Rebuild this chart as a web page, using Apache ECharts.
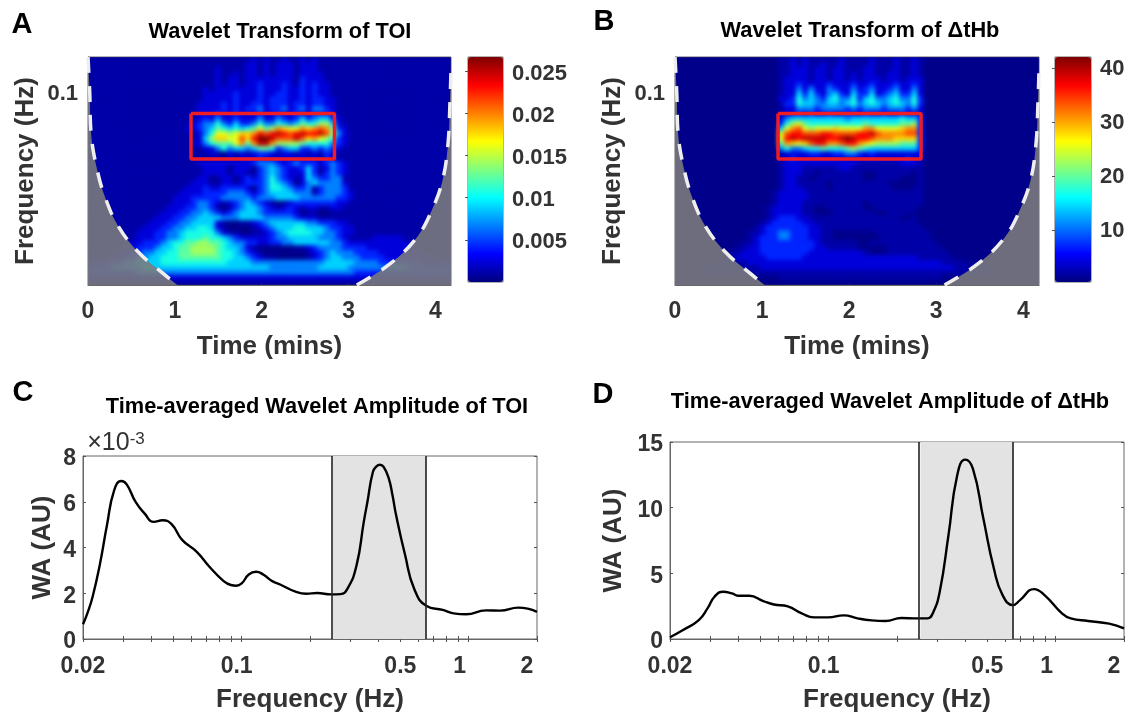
<!DOCTYPE html>
<html><head><meta charset="utf-8">
<style>html,body{margin:0;padding:0;background:#fff}#c{width:1125px;height:713px}</style>
<script src="https://cdn.jsdelivr.net/npm/echarts@6/dist/echarts.min.js"></script></head>
<body><div id="c"></div>
<script>
// Heat levels (hex 0-f) read cell by cell, top row first; groups of ten columns.
const toiRows=[
"1111111111 1111111111 1111111212 1121121211 1111111111 1111111111",
"1111111111 1111111111 1111112212 1222122211 1111111111 1111111111",
"1111111111 1111111111 1211112212 1222122211 1111111111 1111111111",
"1111111111 1111111111 1211212212 1222122221 1111111111 1111111111",
"1111111111 1111111111 1212212222 2222132221 1111111111 1111111111",
"1111111111 1111111111 1212212232 2232132322 1111111111 1111111111",
"1111111111 1111111112 1222222232 2232232322 1111111111 1111111111",
"1111111111 1111111112 2222322232 2332232322 1111111111 1111111111",
"1111111111 1111111112 2222322232 3332232332 2111111111 1111111111",
"1111111111 1111111122 2232322332 3332332332 2111111111 1111111111",
"1111111111 1111111122 2232323342 3342342443 2111111111 1111111111",
"1111111111 1111111122 2322322232 2322322333 2111111111 1111111111",
"1111111111 1111111123 2422322242 2432353455 3211111111 1111111111",
"1111111111 1111111234 4643533464 4654576688 5211111111 1111111111",
"1111111111 1111112234 5765656797 8ba99babcb 7321111111 1111111111",
"1111111111 1111111124 69989aabdc dedcdeddec 8421111111 1111111111",
"1111111111 1111111125 8aa99cadff ecccecab98 6321111111 1111111111",
"1111111111 1111111224 67779b7bee b888876666 4321111111 1111111111",
"1111111111 1111111112 2464554577 6345533434 3211111111 1111111111",
"1111111111 1111111111 2102121233 2122121213 2111111111 1111111111",
"1111111111 1111111111 1212122232 2222222213 2111111111 1111111111",
"1111111111 1111111122 2222222344 4323433323 4321111111 1111111111",
"1111111111 1111111112 2220222034 5432235312 4321111111 1111111111",
"1111111111 1111111112 2221221134 5432225313 4321111111 1111111111",
"1111111111 1111111122 0122023234 6432125433 4411111111 1111111111",
"1111111111 1111111222 1122123334 6543024544 4421111111 1111111111",
"1111111111 1111112223 2233332034 6654334134 4431111111 1111111111",
"1111111111 1111122223 3334443234 5555444134 4432111111 1111111111",
"1111111111 1111222333 3344444344 4555544444 4332111111 1111111111",
"1111111111 1111222344 3212345432 1012333333 3221111111 1111111111",
"1111111111 1112223344 3101345543 2123212211 2211111111 1111111111",
"1111111111 1122233445 4323455543 3333201100 1111111111 1111111111",
"1111111111 1222334455 5544455554 4444322211 1111111111 1111111111",
"1111111111 2223344555 5210011234 5555554433 3221111111 1111111111",
"1111111112 2233445566 5210000123 4555665554 3322111111 1111111111",
"1111111122 2334456666 6421100112 3456666554 4322111111 1111111111",
"1111111122 2334456667 6654322222 3445555544 4321111222 2211111111",
"1111111223 3345667788 7765443322 3344555555 4432222222 2221111111",
"1111112233 3455677888 8765542100 0000112344 4433332222 2222111111",
"1111122334 4556677888 8766543210 0000001234 5444333322 2222211111",
"1111223344 5566677777 7766554321 1000001234 5544433332 2222222111",
"2223334455 5566666666 6665555444 4444444445 5555444433 3333322222",
"3333444445 5555555555 5555555555 4444444455 5554444444 4443333333",
"3333333344 4444444444 4444444444 4444444444 4444333333 3333333333",
"2222222222 2222222222 2222222222 2222222222 2222222222 2222222222",
"1111111111 1111111111 1111111111 1111111111 1111111111 1111111111"];
const hbRows=[
"0000000000 0000000112 1211111211 1121112112 1000000000 0000000000",
"0000000000 0000000112 1211211211 1121112112 1000000000 0000000000",
"0000000000 0000000112 2212212211 1221112112 1000000000 0000000000",
"0000000000 0000000112 2212212212 1221122112 1000000000 0000000000",
"0000000000 0000000122 2212212212 1222122122 2000000000 0000000000",
"0000000000 0000000122 3222232223 2232223223 2000000000 0000000000",
"0000000000 0000000122 4242243224 2342234224 2000000000 0000000000",
"0000000000 0000000122 5353245325 3352345335 2000000000 0000000000",
"0000000000 0000000223 6454356446 3564456446 3000000000 0000000000",
"0000000000 0000000133 6554455456 4565456546 3000000000 0000000000",
"0000000000 0000000122 4443444434 3444344434 2000000000 0000000000",
"0000000000 0000000122 3232232232 2322322322 2000000000 0000000000",
"0000000000 0000000245 5555555545 5555555655 3000000000 0000000000",
"0000000000 0000000368 9766666666 6766666778 3000000000 0000000000",
"0000000000 000000059b c98999a999 9bb9999abb 3000000000 0000000000",
"0000000000 00000009cd dcccddcccc ddecbbbbcc 3000000000 0000000000",
"0000000000 00000009de deeeeddefe ddcbbbaaaa 3000000000 0000000000",
"0000000000 00000007ba 9acddbbcdd ba98888777 3000000000 0000000000",
"0000000000 0000000464 4566766678 7655555555 3000000000 0000000000",
"0000000000 0000000122 2233223344 3232222222 2000000000 0000000000",
"0000000000 0000000123 2222222222 2222222232 2000000000 0000000000",
"0000000000 0000000122 2222222222 1111111222 1000000000 0000000000",
"0000000000 0000000122 2111111221 1111111111 1000000000 0000000000",
"0000000000 0000000122 2110111111 1001111110 1000000000 0000000000",
"0000000000 0000000122 1101111111 1001111000 1000000000 0000000000",
"0000000000 0000000122 1111101111 1111100000 1000000000 0000000000",
"0000000000 0000000122 2111101111 1111110001 1000000000 0000000000",
"0000000000 0000001222 2211111111 1111111111 1000000000 0000000000",
"0000000000 0000001222 2211111111 1111111111 1000000000 0000000000",
"0000000000 0000001222 2111111111 1011111111 1000000000 0000000000",
"0000000000 0000012222 2110011111 1001111111 0000000000 0000000000",
"0000000000 0000012222 2110001111 1110011110 0000000000 0000000000",
"0000000000 0000012333 2211111111 1111111001 0000000000 0000000000",
"0000000000 0000123333 3221111111 1111111111 0000000000 0000000000",
"0000000000 0001233333 3322111111 1111111111 1000000000 0000000000",
"0000000000 0011233443 3322110000 0001111111 1100000000 0000000000",
"0000000000 0012333443 3322110000 0000111111 1100000000 0000000000",
"0000000000 0112333333 3332111111 0011111111 1110000000 0000000000",
"0000000000 1122333333 3332211111 0000011111 1111000000 0000000000",
"0000000001 1222333333 3322222222 2100011111 1111100000 0000000000",
"0000000011 2222233333 3222222222 2222222222 1111110000 0000000000",
"0000000111 1122222222 2222222222 2222222222 2222111100 0000000000",
"0000011111 1111222222 2222222222 2222222222 2222221111 1100000000",
"0000111111 1111111111 1111111111 1111111111 1111111111 1110000000",
"0000000000 0000000111 1111111111 1111111111 1111000000 0000000000",
"0000000000 0000000000 0000000000 0000000000 0000000000 0000000000"];
const levelScale=[.012,.04,.09,.16,.25,.33,.4,.467,.533,.6,.667,.733,.8,.867,.933,1];
// Cone of influence
const coneLeft=[[0,0.1455],[0.02,0.1],[0.035,0.0652],[0.106,0.0441],[0.196,0.03316],[0.345,0.0245],[0.576,0.0186],[0.864,0.0148],[1.03,0.01309]];
const coneRight=[[3.095,0.01309],[3.48,0.01640],[3.79,0.02174],[3.97,0.0295],[4.085,0.0399],[4.145,0.0578],[4.168,0.0895],[4.18,0.1268]];
const rectA=[[1.186,0.0801],[2.838,0.0801],[2.838,0.0495],[1.186,0.0495],[1.186,0.0801]];
const rectB=[[1.183,0.0801],[2.825,0.0801],[2.825,0.0495],[1.183,0.0495],[1.183,0.0801]];
// Time-averaged amplitude
const toiCurve=[[.02,.64],[.0209,1.12],[.02205,1.85],[.0237,3.23],[.0255,4.97],[.02743,6.5],[.0295,6.91],[.0312,6.75],[.0341,5.99],[.0374,5.48],[.04095,5.12],[.0449,5.19],[.0491,5.02],[.0548,4.32],[.0634,3.81],[.0721,3.16],[.0833,2.53],[.0896,2.36],[.0947,2.33],[.1,2.43],[.1075,2.82],[.1157,2.94],[.1244,2.82],[.1363,2.53],[.1493,2.36],[.1727,2.07],[.1927,1.98],[.2149,2.01],[.2487,1.95],[.2724,1.96],[.293,2.21],[.3209,3.23],[.3451,5.12],[.358,5.99],[.3785,7.3],[.3936,7.56],[.4066,7.62],[.4222,7.52],[.4449,7.01],[.4618,6.28],[.4791,5.41],[.5248,3.67],[.5748,2.21],[.6529,1.44],[.7691,1.27],[.8579,1.12],[.9748,1.08],[1.191,1.25],[1.377,1.24],[1.654,1.37],[2,1.19]];
const hbCurve=[[.02,.13],[.02283,.68],[.02678,1.44],[.02926,2.33],[.0314,3.22],[.03431,3.6],[.03748,3.47],[.04022,3.29],[.04474,3.29],[.05155,2.89],[.05735,2.63],[.06607,2.48],[.0761,1.95],[.0862,1.65],[.0993,1.65],[.1165,1.8],[.1342,1.57],[.1546,1.42],[.1782,1.37],[.2089,1.6],[.245,1.57],[.2725,1.57],[.2874,1.95],[.3085,3.6],[.3371,7.9],[.3684,12.47],[.3994,13.66],[.4318,12.97],[.4802,9.17],[.5343,5.37],[.5837,3.34],[.6491,2.58],[.6967,2.96],[.8027,3.8],[.8929,3.34],[1.0659,1.95],[1.165,1.57],[1.39,1.37],[1.72,1.17],[2,.81]];
const bandC=[0.2523,0.6529], bandD=[0.2539,0.6536];
const timeTicks=[0,1,2,3,4];
const freqTickLabels=[0.02,0.1,0.5,1,2];
const freqMinor=[0.02,0.03,0.04,0.05,0.06,0.07,0.08,0.09,0.1,0.2,0.3,0.4,0.5,0.6,0.7,0.8,0.9,1,2];
const heatFreqTicks=[0.1,0.09,0.08,0.07,0.06,0.05,0.04,0.03,0.02];
const barTicksA=[0.005,0.01,0.015,0.02,0.025], barTicksB=[10,20,30,40];
const waTicksC=[0,2,4,6,8], waTicksD=[0,5,10,15];

const jet=['#00007f','#0000ff','#007fff','#00ffff','#7fff7f','#ffff00','#ff7f00','#ff0000','#7f0000'];
const FONT='Liberation Sans', TXT='#333';
const cells=(rows,lo,hi)=>{const out=[];const n=rows.length;rows.forEach((r,i)=>{const s=r.replace(/ /g,'');for(let j=0;j<s.length;j++)out.push([j,n-1-i,lo+levelScale[parseInt(s[j],16)]*(hi-lo)]);});return out;};
const idx=n=>Array.from({length:n},(_,i)=>String(i));
const lab=(size)=>({fontFamily:FONT,fontWeight:'bold',fontSize:size,color:TXT});
const nm=(size)=>({fontFamily:FONT,fontWeight:'bold',fontSize:size,color:TXT});
const tickS={inside:true,length:3,lineStyle:{color:'#555',width:1}};
const lineS={show:true,onZero:false,lineStyle:{color:'#666',width:1}};
const shift={0.1:10,1:18,2:20};
const richShift={};Object.keys(shift).forEach(k=>{richShift['s'+String(k).replace('.','_')]={fontFamily:FONT,fontWeight:'bold',fontSize:23,color:TXT,padding:[0,shift[k],0,0]};});
const fLabel=v=>{const r=+(+v).toPrecision(2);return shift[r]?('{s'+String(r).replace('.','_')+'|'+r+'}'):String(r);};
// y tick labels sit a little below their ticks in the reference
const downRich=(size,pad)=>({d:{fontFamily:FONT,fontWeight:'bold',fontSize:size,color:TXT,padding:[pad,0,0,0]}});
const down=v=>'{d|'+v+'}';
const heatX=(g)=>[{gridIndex:g,type:'category',data:idx(60),show:false},
 {gridIndex:g,type:'value',min:0,max:4.18,position:'bottom',name:'Time (mins)',nameLocation:'middle',nameGap:49,nameTextStyle:nm(26),
  axisLine:lineS,axisTick:{...tickS,customValues:timeTicks},splitLine:{show:false},axisLabel:{...lab(23),margin:15,customValues:timeTicks,formatter:v=>String(v)}}];
const heatY=(g)=>[{gridIndex:g,type:'category',data:idx(46),show:false},
 {gridIndex:g,type:'log',min:0.0131,max:0.1455,position:'left',name:'Frequency (Hz)',nameLocation:'middle',nameGap:49,nameTextStyle:nm(26),
  axisLine:lineS,axisTick:{...tickS,customValues:heatFreqTicks},splitLine:{show:false},minorTick:{show:false},axisLabel:{...lab(22),margin:10,rich:downRich(22,3),customValues:[0.1],formatter:v=>down('0.1')}}];
const barX=g=>({gridIndex:g,type:'value',show:false,min:0,max:1});
const barY=(g,lo,hi,t,pad)=>({gridIndex:g,type:'value',position:'right',min:lo,max:hi,axisLine:{show:false},splitLine:{show:false},axisTick:{...tickS,customValues:t},axisLabel:{...lab(22),margin:9,rich:downRich(22,pad),customValues:t,formatter:v=>down(v)}});
const lineX=g=>({gridIndex:g,type:'log',min:0.02,max:2,name:'Frequency (Hz)',nameLocation:'middle',nameGap:48,nameTextStyle:nm(26),axisLine:lineS,splitLine:{show:false},minorTick:{show:false},
  axisTick:{...tickS,customValues:freqMinor},axisLabel:{...lab(23),margin:16,customValues:freqTickLabels,formatter:fLabel,rich:richShift,hideOverlap:false,showMinLabel:true,showMaxLabel:true}});
const lineXTop=g=>({gridIndex:g,type:'log',min:0.02,max:2,position:'top',axisLine:{show:false},splitLine:{show:false},minorTick:{show:false},axisTick:{...tickS,customValues:freqMinor},axisLabel:{show:false}});
const lineY=(g,max,t,gap)=>({gridIndex:g,type:'value',min:0,max:max,name:'WA (AU)',nameLocation:'middle',nameGap:gap,nameTextStyle:nm(26),axisLine:lineS,splitLine:{show:false},axisTick:{...tickS,customValues:t},axisLabel:{...lab(23),margin:7,rich:downRich(23,6),customValues:t,formatter:v=>down(v)}});
const lineYRight=(g,max,t)=>({gridIndex:g,type:'value',min:0,max:max,position:'right',axisLine:{show:false},splitLine:{show:false},axisTick:{...tickS,customValues:t},axisLabel:{show:false}});
const heat=(rows,lo,hi,xi,yi)=>({type:'heatmap',zlevel:1,xAxisIndex:xi,yAxisIndex:yi,data:cells(rows,lo,hi),progressive:0,silent:true,emphasis:{disabled:true}});
const gray=(d,xi,yi)=>({type:'line',zlevel:2,xAxisIndex:xi,yAxisIndex:yi,data:d,smooth:0.4,symbol:'none',silent:true,lineStyle:{color:'#eeeeee',width:3.5,type:[16,13]},areaStyle:{origin:'start',color:'rgba(124,124,124,0.88)',opacity:1}});
const rect=(d,xi,yi)=>({type:'line',zlevel:2,xAxisIndex:xi,yAxisIndex:yi,data:d,symbol:'none',silent:true,lineStyle:{color:'#ee1c25',width:3.5}});
const curve=(d,band,xi,yi)=>({type:'line',xAxisIndex:xi,yAxisIndex:yi,data:d,smooth:0.5,symbol:'none',silent:true,z:4,lineStyle:{color:'#000',width:2.4},
  markArea:{silent:true,itemStyle:{color:'#e3e3e3'},data:[[{xAxis:band[0]},{xAxis:band[1]}]]},
  markLine:{silent:true,symbol:'none',label:{show:false},lineStyle:{color:'#222',width:1.6,type:'solid'},data:[{xAxis:band[0]},{xAxis:band[1]}]}});
const ttl=(t,x,y,size,col,extra)=>({text:t,left:x,top:y,textAlign:'center',textVerticalAlign:'middle',padding:0,textStyle:{fontFamily:FONT,fontWeight:'bold',fontSize:size,color:col||'#000',...(extra||{})}});
const gridBase={show:true,borderColor:'#666',borderWidth:1,outerBoundsMode:'none'};

const option={animation:false,backgroundColor:'#fff',
 title:[ttl('A',22,25,29),ttl('B',604,22,29),ttl('C',23,393,29),ttl('D',603,395,29),
  ttl('Wavelet Transform of TOI',280,32,21.8),ttl('Wavelet Transform of ΔtHb',860,31,21.8),
  ttl('Time-averaged Wavelet Amplitude of TOI',317,407,21.8),ttl('Time-averaged Wavelet Amplitude of ΔtHb',890,402,21.8),
  ttl('×10{sup|-3}',116,443,25,TXT,{fontWeight:'normal',rich:{sup:{fontFamily:FONT,fontSize:17,color:TXT,verticalAlign:'top',padding:[0,0,8,0]}}})],
 grid:[
  {...gridBase,left:88,top:57,width:363,height:228,backgroundColor:'#00008a'},
  {...gridBase,left:675,top:57,width:364,height:228,backgroundColor:'#00008a'},
  {...gridBase,left:468,top:57,width:35,height:225,backgroundColor:'transparent'},
  {...gridBase,left:1055,top:57,width:36,height:225,backgroundColor:'transparent'},
  {...gridBase,left:83,top:456,width:454,height:183},
  {...gridBase,left:670,top:442,width:454,height:197}],
 xAxis:[...heatX(0),...heatX(1),barX(2),barX(3),lineX(4),lineX(5),lineXTop(4),lineXTop(5)],
 yAxis:[...heatY(0),...heatY(1),barY(2,0,0.0267,barTicksA,5),barY(3,0.37,42,barTicksB,2),lineY(4,8,waTicksC,27),lineY(5,15,waTicksD,43),lineYRight(4,8,waTicksC),lineYRight(5,15,waTicksD)],
 visualMap:[
  {type:'continuous',seriesIndex:0,min:0,max:0.0267,show:true,calculable:false,hoverLink:false,left:468,top:57,itemWidth:35,itemHeight:225,padding:0,inRange:{color:jet},textStyle:{fontSize:0}},
  {type:'continuous',seriesIndex:3,min:0.37,max:42,show:true,calculable:false,hoverLink:false,left:1055,top:57,itemWidth:36,itemHeight:225,padding:0,inRange:{color:jet},textStyle:{fontSize:0}}],
 series:[
  heat(toiRows,0,0.0267,0,0),gray(coneLeft,1,1),gray(coneRight,1,1),
  heat(hbRows,0.37,42,2,2),gray(coneLeft,3,3),gray(coneRight,3,3),
  rect(rectA,1,1),rect(rectB,3,3),
  curve(toiCurve,bandC,6,6),curve(hbCurve,bandD,7,7)]
};
const chart=echarts.init(document.getElementById('c'),null,{renderer:'canvas'});
chart.setOption(option);
// soften the cell raster of the heatmap layer only, clipped to the two plot frames
const soften=()=>{const cv=document.querySelector('#c canvas[data-zr-dom-id="zr_1"]');if(cv){cv.style.filter='blur(2.2px)';cv.style.clipPath='path("M88 57H451V285H88Z M675 57H1039V285H675Z")';}};
soften();chart.on('finished',soften);
</script></body></html>
